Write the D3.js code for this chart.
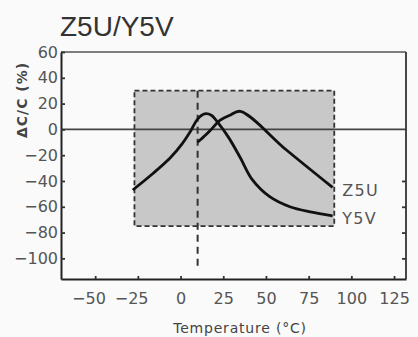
<!DOCTYPE html>
<html>
<head>
<meta charset="utf-8">
<script src="https://cdn.jsdelivr.net/npm/d3@7"></script>
<style>
  html, body { margin: 0; padding: 0; background: #fafafa; }
  svg { display: block; }
</style>
</head>
<body>
<div id="chart"></div>
<script>
// values
var xTicks = [-50, -25, 0, 25, 50, 75, 100, 125]
var yTicks = [60, 40, 20, 0, -20, -40, -60, -80, -100]
var rightTicks = [-40, -60, -80, -100]

// operating window (grey box) and the 10 degree marker
var boxX = [-27, 90]
var boxY = [-75, 30]
var markerX = 10
var markerBottom = -108

var y5vTemp = [-28, -16, -6, 1, 6, 10, 14, 18, 22, 28, 35, 42, 52, 64, 76, 89]
var y5vVal  = [-47, -34, -22, -11, -1, 8, 12, 11, 5, -6, -22, -39, -52, -60, -64, -67]

var z5uTemp = [10, 15, 18, 23, 29, 35, 62, 89]
var z5uVal  = [-10, -4, 0, 7, 11, 14, -16, -45]

var series = [
  {name: "Z5U", temp: z5uTemp, val: z5uVal},
  {name: "Y5V", temp: y5vTemp, val: y5vVal}
]

var width = 418, height = 337
// plot edges (window.top is reserved, so use pl/pr/pt/pb)
var pl = 61, pr = 406, pt = 52, pb = 279

var x = d3.scaleLinear().domain([-70, 132]).range([pl, pr])
var y = d3.scaleLinear().domain([-116, 60]).range([pb, pt])

var svg = d3.select("#chart").append("svg")
    .attr("width", width)
    .attr("height", height)

svg.append("rect")
    .attr("width", width)
    .attr("height", height)
    .attr("fill", "#fafafa")

// title
svg.append("text")
    .attr("x", 60)
    .attr("y", 36)
    .attr("font-family", "Liberation Sans, Arial, sans-serif")
    .attr("font-size", 28)
    .attr("fill", "#333")
    .text("Z5U/Y5V")

// grey window
svg.append("rect")
    .attr("x", x(boxX[0]))
    .attr("y", y(boxY[1]))
    .attr("width", x(boxX[1]) - x(boxX[0]))
    .attr("height", y(boxY[0]) - y(boxY[1]))
    .attr("fill", "#c8c8c8")
    .attr("stroke", "#333")
    .attr("stroke-width", 1.8)
    .style("stroke-dasharray", "5, 3")

// zero line
svg.append("line")
    .attr("x1", pl)
    .attr("x2", pr)
    .attr("y1", y(0))
    .attr("y2", y(0))
    .attr("stroke", "#444")
    .attr("stroke-width", 1.6)

// 10 degree marker
svg.append("line")
    .attr("x1", x(markerX))
    .attr("x2", x(markerX))
    .attr("y1", y(boxY[1]))
    .attr("y2", y(markerBottom))
    .attr("stroke", "#333")
    .attr("stroke-width", 2)
    .style("stroke-dasharray", "7, 5")

var line = d3.line()
    .x(d => x(d[0]))
    .y(d => y(d[1]))
    .curve(d3.curveCatmullRom.alpha(0.5))

series.forEach(function (s) {
  var pts = s.temp.map((t, i) => [t, s.val[i]])

  svg.append("path")
      .datum(pts)
      .attr("fill", "none")
      .attr("stroke", "#111")
      .attr("stroke-width", 2.8)
      .attr("stroke-linejoin", "round")
      .attr("d", line)

  var last = pts[pts.length - 1]
  svg.append("text")
      .attr("x", x(boxX[1]) + 8)
      .attr("y", y(last[1]) + 3)
      .attr("dy", "0.35em")
      .attr("font-family", "DejaVu Sans, sans-serif")
      .attr("font-size", 16)
      .attr("letter-spacing", 1.3)
      .attr("fill", "#555")
      .text(s.name)
})

// frame: top and right edges
svg.append("line")
    .attr("x1", pl).attr("x2", pr)
    .attr("y1", pt).attr("y2", pt)
    .attr("stroke", "#555")
    .attr("stroke-width", 1.6)

svg.append("line")
    .attr("x1", pr).attr("x2", pr)
    .attr("y1", pt).attr("y2", pb)
    .attr("stroke", "#333")
    .attr("stroke-width", 1.8)

// axes
var xAxis = svg.append("g")
    .attr("transform", "translate(0," + pb + ")")
    .call(d3.axisBottom(x)
        .tickValues(xTicks)
        .tickSize(-3)
        .tickSizeOuter(0)
        .tickPadding(14))

// digits sit on the tick, the minus hangs to the left
xAxis.selectAll(".tick text")
    .filter(d => d < 0)
    .attr("dx", "-0.42em")

svg.append("g")
    .attr("transform", "translate(" + pl + ",0)")
    .call(d3.axisLeft(y)
        .tickValues(yTicks)
        .tickSize(-4)
        .tickSizeOuter(0)
        .tickPadding(3))

svg.append("g")
    .attr("transform", "translate(" + pr + ",0)")
    .call(d3.axisRight(y)
        .tickValues(rightTicks)
        .tickSize(-4)
        .tickFormat(""))
    .call(g => g.select(".domain").remove())

svg.selectAll(".domain")
    .attr("stroke", "#222")
    .attr("stroke-width", 2)

svg.selectAll(".tick line")
    .attr("stroke", "#333")
    .attr("stroke-width", 1.8)

svg.selectAll(".tick text")
    .attr("font-family", "DejaVu Sans, sans-serif")
    .attr("font-size", 16)
    .attr("fill", "#555")

// axis titles
svg.append("text")
    .attr("transform", "translate(27,100) rotate(-90)")
    .attr("text-anchor", "middle")
    .attr("font-family", "DejaVu Sans, sans-serif")
    .attr("font-weight", "bold")
    .attr("font-size", 14)
    .attr("letter-spacing", 1)
    .attr("fill", "#444")
    .text("ΔC/C (%)")

svg.append("text")
    .attr("x", 240)
    .attr("y", 333)
    .attr("text-anchor", "middle")
    .attr("font-family", "DejaVu Sans, sans-serif")
    .attr("font-size", 14)
    .attr("letter-spacing", 0.8)
    .attr("fill", "#444")
    .text("Temperature (°C)")
</script>
</body>
</html>
